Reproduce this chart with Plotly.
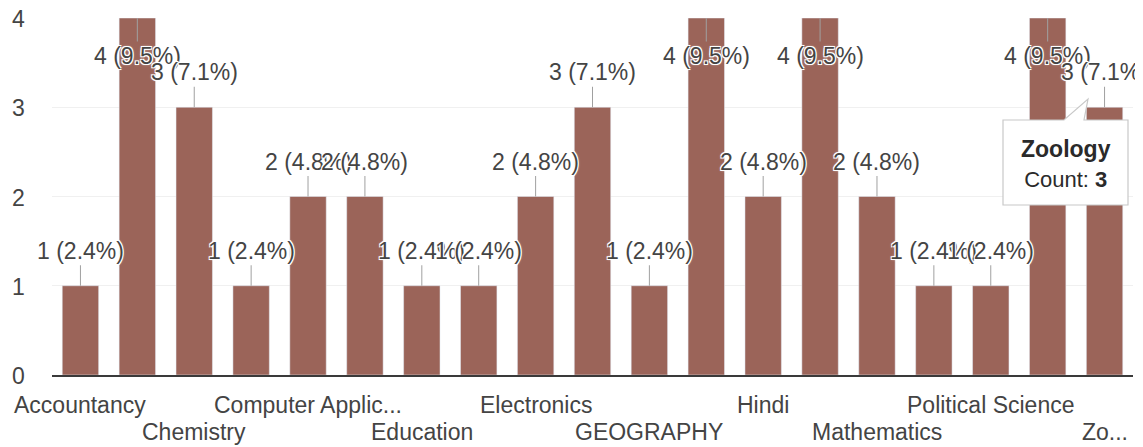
import plotly.graph_objects as go

# ---- data ----
categories = ["Accountancy", "Biology", "Chemistry", "Commerce", "Computer Applications",
              "Economics", "Education", "Electrical", "Electronics", "English",
              "GEOGRAPHY", "Geology", "Hindi", "History", "Mathematics",
              "Physics", "Political Science", "Psychology", "Zoology"]
counts = [1, 4, 3, 1, 2, 2, 1, 1, 2, 3, 1, 4, 2, 4, 2, 1, 1, 4, 3]
tick_labels = ["Accountancy", "", "Chemistry", "", "Computer Applic...", "", "Education", "",
               "Electronics", "", "GEOGRAPHY", "", "Hindi", "", "Mathematics", "",
               "Political Science", "", "Zo..."]
y_ticks = [0, 1, 2, 3, 4]

BAR = "#9b6459"
TXT = "#444444"
FONT = "Liberation Sans, Arial, sans-serif"

# page has an 8px body margin; compensate so page pixels match the reference
OFF = 8
W, H = 1143 - OFF, 447 - OFF
ML, MR, MT, MB = 52 - OFF, 10, 18 - OFF, 72
n = len(categories)
plot_w = W - ML - MR
plot_h = H - MT - MB
step = plot_w / n


def px2x(px):
    return (px - OFF - ML) / step - 0.5


def px2y(py):
    return (H - MB - (py - OFF)) / plot_h * 4


total = sum(counts)

fig = go.Figure(go.Bar(
    x=list(range(n)), y=counts, marker_color=BAR, width=0.64,
    hoverinfo="skip"))

annotations = []
halo = "1px 1px 0 #fff, -1px -1px 0 #fff, 1px -1px 0 #fff, -1px 1px 0 #fff, 0 0 3px #fff"
for i, c in enumerate(counts):
    pct = c / total * 100
    annotations.append(dict(
        x=i, y=c, xref="x", yref="y",
        text=f"{c} ({pct:.1f}%)",
        showarrow=True, arrowhead=0, arrowwidth=1, arrowcolor="#a0a0a0",
        ax=0, ay=(38 if c >= 4 else -35), standoff=0,
        font=dict(family=FONT, size=23, color=TXT, shadow=halo)))

# y tick labels (as annotations so the top one is not dropped)
for v in y_ticks:
    annotations.append(dict(
        x=0, y=v, xref="paper", yref="y", text=str(v), showarrow=False,
        xanchor="right", yanchor="middle", xshift=-25, yshift=-1,
        font=dict(family=FONT, size=23, color=TXT)))

# two-row category labels
for i, lab in enumerate(tick_labels):
    if not lab:
        continue
    row = (i // 2) % 2
    annotations.append(dict(
        x=i, y=0, xref="x", yref="paper", text=lab, showarrow=False,
        yanchor="middle", yshift=-30 - 27 * row,
        font=dict(family=FONT, size=23, color=TXT)))

# tooltip text
annotations.append(dict(
    x=px2x(1066), y=px2y(164), xref="x", yref="y", showarrow=False,
    text="<b>Zoology</b><br><span style='font-size:22px'>Count: <b>3</b></span>",
    align="center", font=dict(family=FONT, size=23, color="#2a2a2a")))

pts = [(1003, 120), (1064, 120), (1088, 99), (1084, 120), (1128, 120),
       (1128, 205), (1003, 205)]
path = "M " + " L ".join(f"{px2x(a):.4f},{px2y(b):.4f}" for a, b in pts) + " Z"
shapes = [dict(type="path", path=path, xref="x", yref="y",
               fillcolor="white", line=dict(color="#c8c8c8", width=1.2),
               layer="above")]

fig.update_layout(
    width=W, height=H,
    margin=dict(l=ML, r=MR, t=MT, b=MB),
    paper_bgcolor="white", plot_bgcolor="white",
    showlegend=False,
    annotations=annotations, shapes=shapes,
    font=dict(family=FONT, color=TXT),
    xaxis=dict(range=[-0.5, n - 0.5], showticklabels=False, showgrid=False,
               showline=True, linecolor="#3a3a3a", linewidth=2, zeroline=False,
               ticks="", fixedrange=True),
    yaxis=dict(range=[0, 4], tickvals=y_ticks, showticklabels=False,
               showgrid=True, gridcolor="#f0f0f0", zeroline=False,
               showline=False, fixedrange=True),
)

fig.write_html("out.html")
